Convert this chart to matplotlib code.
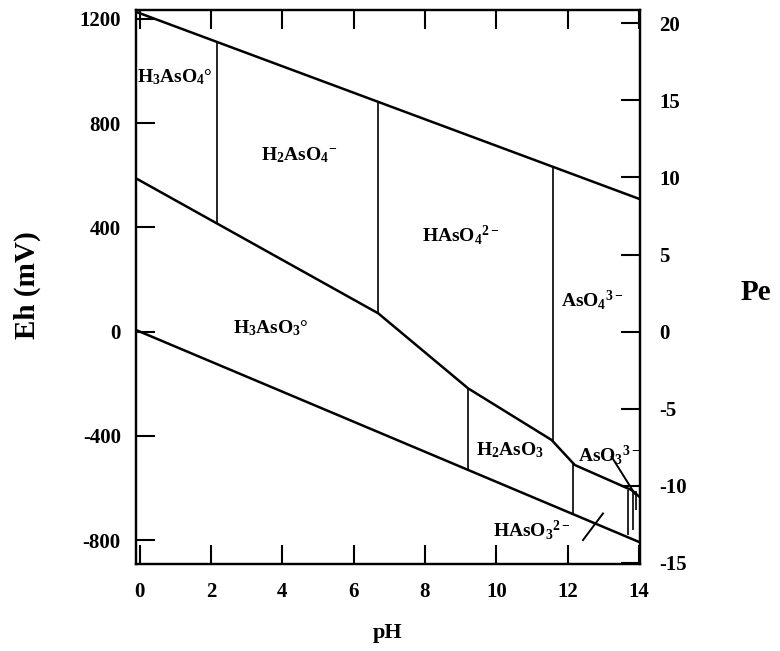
import numpy as np
import matplotlib.pyplot as plt

plt.rcParams['font.family'] = 'Liberation Serif'
plt.rcParams['font.weight'] = 'bold'
plt.rcParams['mathtext.fontset'] = 'custom'
plt.rcParams['mathtext.rm'] = 'Liberation Serif:bold'
plt.rcParams['mathtext.it'] = 'Liberation Serif:bold'
plt.rcParams['mathtext.bf'] = 'Liberation Serif:bold'
plt.rcParams['mathtext.default'] = 'rm'
plt.rcParams['axes.unicode_minus'] = False

# limites de stabilite de l'eau
ph_water = [-0.1, 14.03]
eh_o2 = [1227, 508]
eh_h2 = [6, -809]

# frontiere As(V) / As(III)
ph_redox = [-0.1, 6.69, 9.21, 11.55, 12.2, 13.79, 14.03]
eh_redox = [588, 70, -218, -416, -512, -608, -636]

# frontieres verticales (pKa)
ph_vert = [2.18, 6.69, 11.59, 9.21, 12.15, 13.69, 13.82, 13.91]
eh_vert_top = [1111, 882, 633, -218, -505, -608, -608, -612]
eh_vert_bot = [414, 70, -422, -529, -698, -781, -762, -685]

# petits traits
ph_pointer = [13.23, 13.88]
eh_pointer = [-480, -622]
ph_cross = [12.43, 12.99]
eh_cross = [-800, -698]

# especes
species = ['H$_3$AsO$_4$°', 'H$_2$AsO$_4$$^{-}$', 'HAsO$_4$$^{2-}$', 'AsO$_4$$^{3-}$',
           'H$_3$AsO$_3$°', 'H$_2$AsO$_3$', 'AsO$_3$$^{3-}$', 'HAsO$_3$$^{2-}$']
sp_ph = [-0.07, 4.47, 9.0, 12.7, 3.68, 10.38, 12.28, 11.0]
sp_eh = [978, 678, 371, 122, 14, -454, -474, -761]
sp_ha = ['left', 'center', 'center', 'center', 'center', 'center', 'left', 'center']

ylim = (-892, 1236)

fig = plt.figure(figsize=(7.8, 6.51), dpi=100)
ax = fig.add_axes([0.1744, 0.1336, 0.6462, 0.8518])

ax.plot(ph_water, eh_o2, color='black', lw=1.8)
ax.plot(ph_water, eh_h2, color='black', lw=1.8)
ax.plot(ph_redox, eh_redox, color='black', lw=1.8)
ax.vlines(ph_vert, eh_vert_bot, eh_vert_top, color='black', lw=1.2)
ax.plot(ph_pointer, eh_pointer, color='black', lw=1.4)
ax.plot(ph_cross, eh_cross, color='black', lw=1.4)

for txt, x, y, ha in zip(species, sp_ph, sp_eh, sp_ha):
    ax.text(x, y, txt, ha=ha, va='center', fontsize=14, fontweight='bold')

ax.set_xlim(-0.1, 14.03)
ax.set_ylim(*ylim)
ax.set_xticks(np.arange(0, 15, 2))
ax.set_yticks(np.arange(-800, 1201, 400))
ax.tick_params(direction='in', length=14, width=1.5, top=True, right=False,
               labelsize=15, pad=11)
ax.tick_params(axis='x', pad=13)
for s in ax.spines.values():
    s.set_linewidth(1.6)

ax2 = ax.twinx()
ax2.set_ylim(ylim[0] / 59.16, ylim[1] / 59.16)
ax2.set_yticks(np.arange(-15, 21, 5))
ax2.tick_params(direction='in', length=14, width=1.5, labelsize=15, pad=14)
for s in ax2.spines.values():
    s.set_linewidth(1.6)

fig.text(27.5 / 780, 1 - 285 / 651, 'Eh (mV)', rotation=90, ha='center', va='center',
         fontsize=21, fontweight='bold')
fig.text(756 / 780, 1 - 292 / 651, 'Pe', ha='center', va='center',
         fontsize=21, fontweight='bold')
fig.text(388 / 780, 1 - 633 / 651, 'pH', ha='center', va='center',
         fontsize=16, fontweight='bold')

fig.savefig('out.png', dpi=100)
